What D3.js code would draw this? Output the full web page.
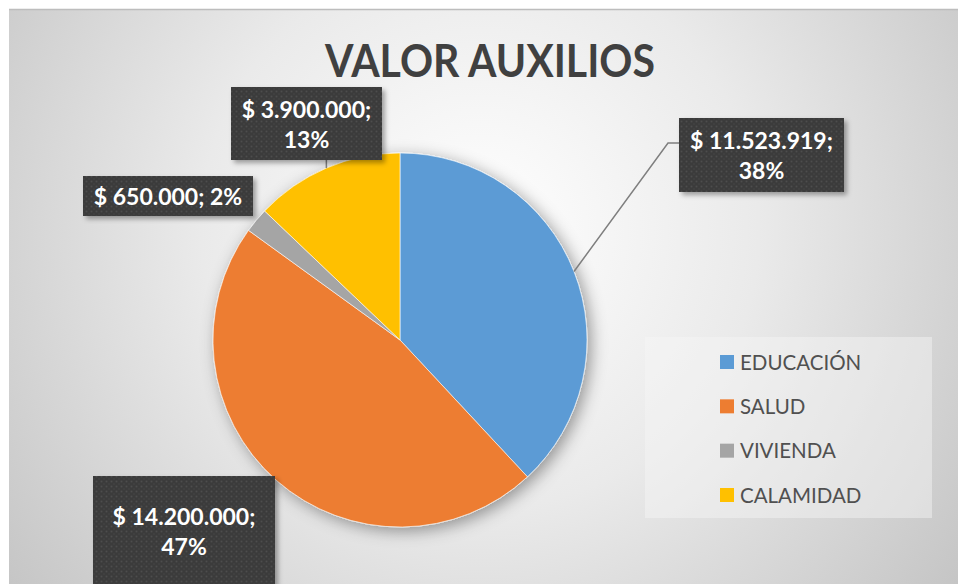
<!DOCTYPE html>
<html>
<head>
<meta charset="utf-8">
<script src="https://cdn.jsdelivr.net/npm/d3@7"></script>
<style>
  html, body { margin: 0; padding: 0; background: #fff; }
  svg { display: block; }
</style>
</head>
<body>
<div class="content"></div>
<script>
const w = 958;
const h = 584;

// data
const categories = ['EDUCACIÓN', 'SALUD', 'VIVIENDA', 'CALAMIDAD'];
const values = [11523919, 14200000, 650000, 3900000];
const colors = ['#5B9BD5', '#ED7D31', '#A5A5A5', '#FFC000'];

// label box layout
const labelBoxes = [
	{ x: 679, y: 118, bw: 165, bh: 74, wrap: true, elbow: 668 },
	{ x: 93, y: 476, bw: 182, bh: 130, wrap: true, pad: 18 },
	{ x: 83, y: 176, bw: 170, bh: 40, wrap: false },
	{ x: 231, y: 87, bw: 151, bh: 73, wrap: true }
];

const cx = 400;
const cy = 340;
const r = 187;

const locale = d3.formatLocale({ decimal: ',', thousands: '.', grouping: [3], currency: ['$ ', ''] });
const money = locale.format('$,.0f');
const total = d3.sum(values);
const pct = (v) => Math.round(v / total * 100) + '%';

const content = d3.select('.content');
const svg = content.append('svg')
	.attr('width', w)
	.attr('height', h);

const defs = svg.append('defs');

const bg = defs.append('radialGradient')
	.attr('id', 'bg')
	.attr('gradientUnits', 'userSpaceOnUse')
	.attr('cx', 480).attr('cy', 230).attr('r', 620);
bg.append('stop').attr('offset', '0').attr('stop-color', '#ffffff');
bg.append('stop').attr('offset', '0.45').attr('stop-color', '#eaeaea');
bg.append('stop').attr('offset', '1').attr('stop-color', '#c2c2c2');

const dots = defs.append('pattern')
	.attr('id', 'dots')
	.attr('patternUnits', 'userSpaceOnUse')
	.attr('width', 5).attr('height', 5);
dots.append('rect').attr('width', 5).attr('height', 5).attr('fill', '#3b3b3b');
dots.append('circle').attr('cx', 1.5).attr('cy', 1.5).attr('r', 1).attr('fill', '#4e4e4e');
dots.append('circle').attr('cx', 4).attr('cy', 4).attr('r', 0.8).attr('fill', '#474747');

const pieShadow = defs.append('filter').attr('id', 'pieShadow')
	.attr('x', '-20%').attr('y', '-20%').attr('width', '140%').attr('height', '140%');
pieShadow.append('feDropShadow')
	.attr('dx', 4).attr('dy', 4).attr('stdDeviation', 8)
	.attr('flood-color', '#000').attr('flood-opacity', 0.38);

const boxShadow = defs.append('filter').attr('id', 'boxShadow')
	.attr('x', '-20%').attr('y', '-20%').attr('width', '140%').attr('height', '140%');
boxShadow.append('feDropShadow')
	.attr('dx', 3).attr('dy', 3).attr('stdDeviation', 2.5)
	.attr('flood-color', '#000').attr('flood-opacity', 0.35);

// chart area
svg.append('rect')
	.attr('x', 9).attr('y', 9)
	.attr('width', w).attr('height', h)
	.attr('fill', 'url(#bg)');
svg.append('line')
	.attr('x1', 9).attr('x2', w).attr('y1', 9.5).attr('y2', 9.5)
	.attr('stroke', '#bdbdbd').attr('stroke-width', 1.5);

svg.append('text')
	.attr('x', 490)
	.attr('y', 77)
	.attr('text-anchor', 'middle')
	.attr('textLength', 330)
	.attr('lengthAdjust', 'spacingAndGlyphs')
	.style('font-family', 'Lato, sans-serif')
	.style('font-weight', 'bold')
	.style('font-size', '46px')
	.attr('fill', '#404040')
	.text('VALOR AUXILIOS');

// pie
const pie = d3.pie().sort(null).value((d) => d);
const arcs = pie(values);
const arc = d3.arc().innerRadius(0).outerRadius(r);

const pieG = svg.append('g')
	.attr('transform', 'translate(' + cx + ',' + cy + ')')
	.attr('filter', 'url(#pieShadow)');

pieG.selectAll('path')
	.data(arcs)
	.enter()
	.append('path')
	.attr('d', arc)
	.attr('fill', (d, i) => colors[i])
	.attr('stroke', '#ffffff')
	.attr('stroke-width', 0.6);

// leader lines
const edge = (d) => {
	const a = (d.startAngle + d.endAngle) / 2;
	return [cx + r * Math.sin(a), cy - r * Math.cos(a)];
};

const eduPt = edge(arcs[0]);
const eduBox = labelBoxes[0];
svg.append('polyline')
	.attr('points', [eduPt, [eduBox.elbow, eduBox.y + 25], [eduBox.x, eduBox.y + 25]].map((p) => p.join(',')).join(' '))
	.attr('fill', 'none')
	.attr('stroke', '#7f7f7f')
	.attr('stroke-width', 1.5);

const calPt = edge(arcs[3]);
svg.append('line')
	.attr('x1', calPt[0]).attr('y1', calPt[1])
	.attr('x2', calPt[0]).attr('y2', labelBoxes[3].y + labelBoxes[3].bh)
	.attr('stroke', '#7f7f7f')
	.attr('stroke-width', 1.5);

// data labels
const labels = svg.append('g');
values.forEach((v, i) => {
	const b = labelBoxes[i];
	const g = labels.append('g');
	g.append('rect')
		.attr('x', b.x).attr('y', b.y)
		.attr('width', b.bw).attr('height', b.bh)
		.attr('fill', 'url(#dots)')
		.attr('filter', 'url(#boxShadow)');
	const t = g.append('text')
		.attr('text-anchor', 'middle')
		.attr('fill', '#ffffff')
		.style('font-family', 'Lato, sans-serif')
		.style('font-weight', 'bold')
		.style('font-size', '23px');
	const mx = b.x + b.bw / 2;
	const top = b.y + (b.pad || 0);
	if (b.wrap) {
		t.append('tspan').attr('x', mx).attr('y', top + 31).text(money(v) + ';');
		t.append('tspan').attr('x', mx).attr('y', top + 61).text(pct(v));
	} else {
		t.append('tspan').attr('x', mx).attr('y', top + 29).text(money(v) + '; ' + pct(v));
	}
});

// legend
const legend = svg.append('g').attr('id', 'legend');
legend.append('rect')
	.attr('x', 645).attr('y', 337)
	.attr('width', 287).attr('height', 181)
	.attr('fill', '#f7f7f7')
	.attr('fill-opacity', 0.45);

const rowY = d3.scalePoint()
	.domain(categories)
	.range([362, 495]);

const item = legend.selectAll('g.item')
	.data(categories)
	.enter()
	.append('g')
	.attr('class', 'item')
	.attr('transform', (d) => 'translate(720,' + rowY(d) + ')');

item.append('rect')
	.attr('x', 0).attr('y', -7)
	.attr('width', 14).attr('height', 14)
	.attr('fill', (d, i) => colors[i]);

item.append('text')
	.attr('x', 20)
	.attr('y', 7.5)
	.attr('fill', '#505050')
	.style('font-family', 'Lato, sans-serif')
	.style('font-size', '20.5px')
	.text((d) => d);
</script>
</body>
</html>
